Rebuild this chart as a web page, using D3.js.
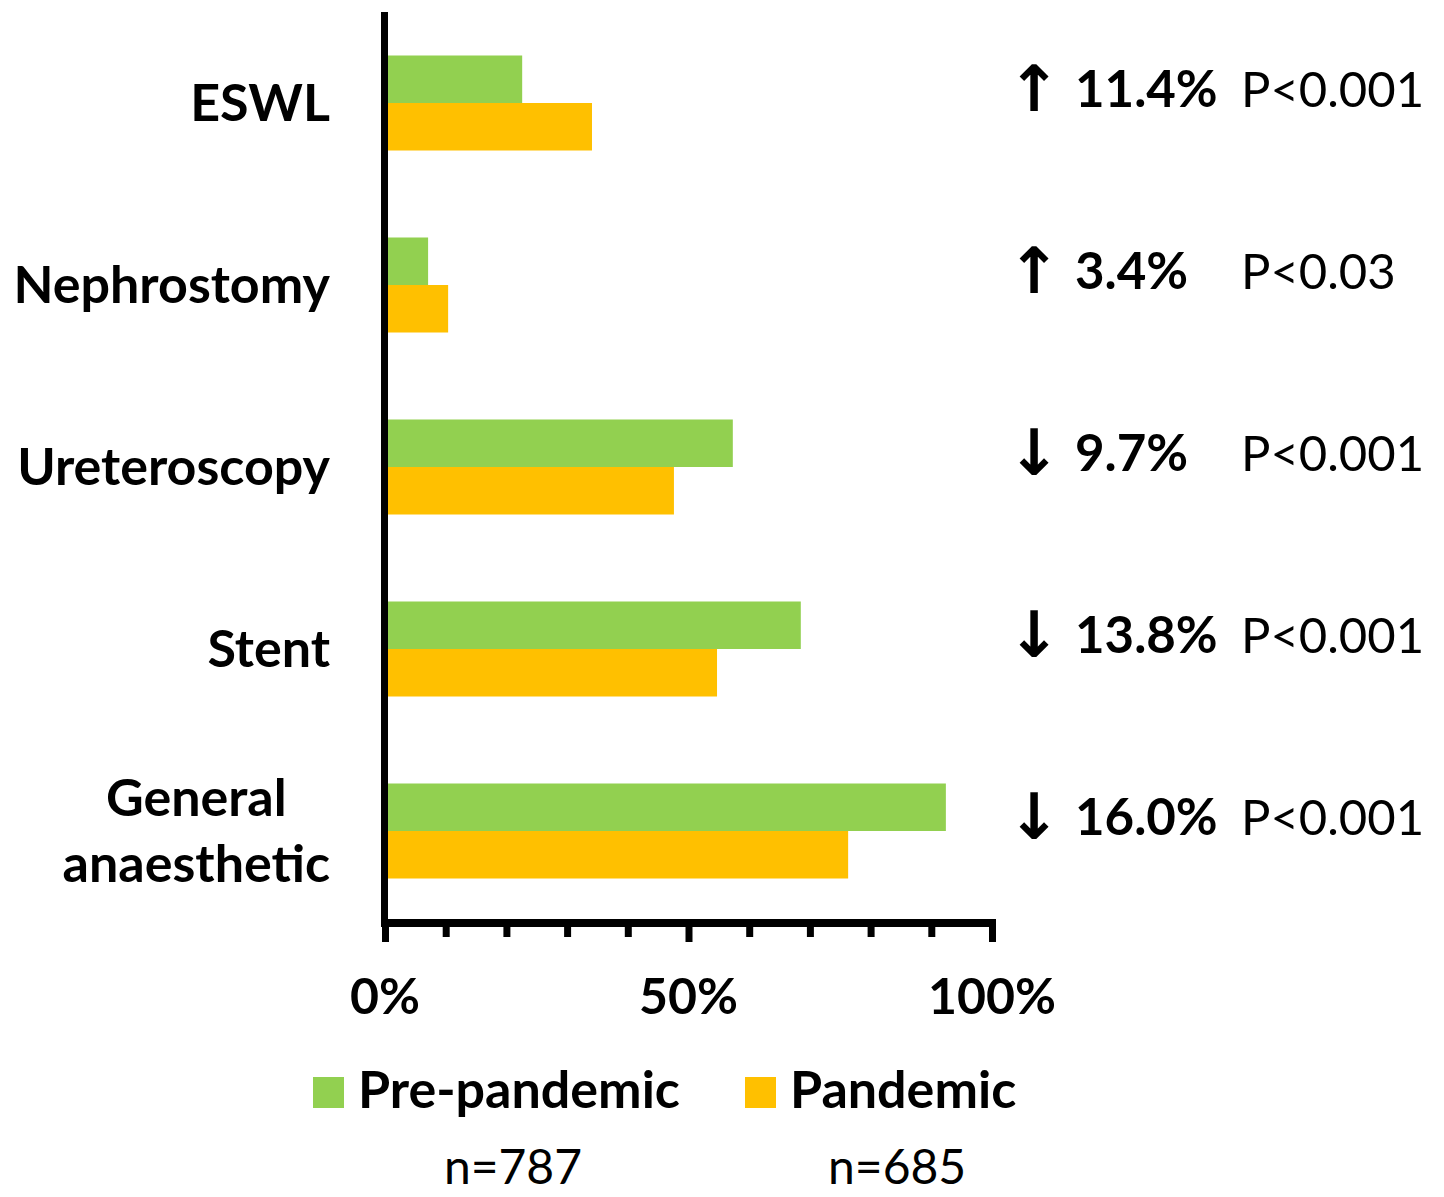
<!DOCTYPE html>
<html>
<head>
<meta charset="utf-8">
<script src="https://cdn.jsdelivr.net/npm/d3@7"></script>
<style>
  body { margin: 0; background: #fff; }
  text { font-family: Lato, "Open Sans", sans-serif; fill: #000; }
</style>
</head>
<body>
<div id="chart"></div>
<script>
// data
var categories = ["ESWL", "Nephrostomy", "Ureteroscopy", "Stent", "General anaesthetic"];
var categoryLines = [["ESWL"], ["Nephrostomy"], ["Ureteroscopy"], ["Stent"], ["General", "anaesthetic"]];
var prePandemic = [22.6, 7.1, 57.3, 68.5, 92.4];
var pandemic = [34.1, 10.4, 47.6, 54.7, 76.3];
var changeText = ["11.4%", "3.4%", "9.7%", "13.8%", "16.0%"];
var changeDir = ["up", "up", "down", "down", "down"];
var pText = ["P<0.001", "P<0.03", "P<0.001", "P<0.001", "P<0.001"];
var seriesNames = ["Pre-pandemic", "Pandemic"];
var seriesN = ["n=787", "n=685"];
var seriesColors = ["#92D050", "#FFC000"];
var xTicks = [0, 10, 20, 30, 40, 50, 60, 70, 80, 90, 100];
var xLabelTicks = [0, 50, 100];

var width = 1444, height = 1197;

var svg = d3.select("#chart")
    .append("svg")
    .attr("width", width)
    .attr("height", height);

// scales
var x = d3.scaleLinear()
    .domain([0, 100])
    .range([385, 992]);

var y = d3.scaleBand()
    .domain(categories)
    .range([12, 922])
    .paddingInner(0.478)
    .paddingOuter(0.239);

var ySub = d3.scaleBand()
    .domain(seriesNames)
    .range([0, y.bandwidth()]);

var rows = categories.map(function(c, i) {
    return {cat: c, lines: categoryLines[i], values: [prePandemic[i], pandemic[i]],
            change: changeText[i], dir: changeDir[i], p: pText[i]};
});

// bars
var groups = svg.selectAll("g.row")
    .data(rows)
    .enter()
    .append("g")
    .attr("class", "row")
    .attr("transform", function(d) { return "translate(0," + y(d.cat) + ")"; });

groups.selectAll("rect")
    .data(function(d) { return d.values.map(function(v, j) { return {v: v, s: seriesNames[j], c: seriesColors[j]}; }); })
    .enter()
    .append("rect")
    .attr("x", x(0))
    .attr("y", function(d) { return ySub(d.s); })
    .attr("width", function(d) { return x(d.v) - x(0); })
    .attr("height", ySub.bandwidth())
    .attr("fill", function(d) { return d.c; });

// x axis
var xAxis = d3.axisBottom(x)
    .tickValues(xTicks)
    .tickSizeOuter(0)
    .tickFormat("");

var gx = svg.append("g")
    .attr("transform", "translate(0,923)")
    .call(xAxis);
gx.select(".domain")
    .attr("d", "M" + (x(0) - 4) + ",0H" + (x(100) + 4))
    .attr("stroke", "#000")
    .attr("stroke-width", 8);
gx.selectAll(".tick line")
    .attr("stroke", "#000")
    .attr("stroke-width", 7)
    .attr("y2", function(d) { return xLabelTicks.indexOf(d) >= 0 ? 19 : 14; });

svg.selectAll("text.xlab")
    .data(xLabelTicks)
    .enter()
    .append("text")
    .attr("class", "xlab")
    .attr("x", function(d) { return x(d); })
    .attr("y", 1014)
    .attr("text-anchor", "middle")
    .attr("font-size", 50)
    .attr("font-weight", "bold")
    .text(function(d) { return d + "%"; });

// y axis (just the line)
var yAxis = d3.axisLeft(y).tickSize(0).tickSizeOuter(0).tickFormat("");
var gy = svg.append("g")
    .attr("transform", "translate(" + (x(0) - 0.5) + ",0)")
    .call(yAxis);
gy.select(".domain")
    .attr("d", "M0," + y.range()[0] + "V" + (y.range()[1] + 5))
    .attr("stroke", "#000")
    .attr("stroke-width", 7);

// category labels
var labelRight = 330;
var labelSize = 52;
groups.each(function(d) {
    var g = d3.select(this);
    var mid = y.bandwidth() / 2;
    if (d.lines.length === 1) {
        g.append("text")
            .attr("x", labelRight)
            .attr("y", mid + 18)
            .attr("text-anchor", "end")
            .attr("font-size", labelSize)
            .attr("font-weight", "bold")
            .text(d.lines[0]);
    } else {
        var t = g.append("text")
            .attr("font-size", labelSize)
            .attr("font-weight", "bold")
            .attr("text-anchor", "middle");
        var widest = 0;
        d.lines.forEach(function(line) {
            var tmp = g.append("text").attr("font-size", labelSize).attr("font-weight", "bold").text(line);
            widest = Math.max(widest, tmp.node().getComputedTextLength());
            tmp.remove();
        });
        var cx = labelRight - widest / 2;
        d.lines.forEach(function(line, k) {
            t.append("tspan")
                .attr("x", cx)
                .attr("y", mid + 18 + (k - (d.lines.length - 1) / 2) * 66)
                .text(line);
        });
    }
});

// change annotations
groups.append("text")
    .attr("x", 1034)
    .attr("y", y.bandwidth() / 2 + 8)
    .attr("text-anchor", "middle")
    .attr("font-size", 64)
    .attr("font-weight", "bold")
    .style("font-family", "'DejaVu Sans', sans-serif")
    .text(function(d) { return d.dir === "up" ? "\u2191" : "\u2193"; });

groups.append("text")
    .attr("x", 1075)
    .attr("y", y.bandwidth() / 2 + 4)
    .attr("font-size", 51)
    .attr("font-weight", "bold")
    .text(function(d) { return d.change; });

groups.append("text")
    .attr("x", 1241)
    .attr("y", y.bandwidth() / 2 + 4)
    .attr("font-size", 49)
    .text(function(d) { return d.p; });

// legend
var legendX = [313, 745];
var legend = svg.selectAll("g.legend")
    .data(seriesNames)
    .enter()
    .append("g")
    .attr("class", "legend")
    .attr("transform", function(d, i) { return "translate(" + legendX[i] + ",0)"; });

legend.append("rect")
    .attr("x", 0)
    .attr("y", 1077)
    .attr("width", 31)
    .attr("height", 31)
    .attr("fill", function(d, i) { return seriesColors[i]; });

legend.append("text")
    .attr("class", "lname")
    .attr("x", 45)
    .attr("y", 1108)
    .attr("font-size", 52)
    .attr("font-weight", "bold")
    .text(function(d) { return d; });

legend.each(function(d, i) {
    var g = d3.select(this);
    var w = g.select("text.lname").node().getComputedTextLength();
    g.append("text")
        .attr("x", 45 + w / 2 - 6)
        .attr("y", 1184)
        .attr("text-anchor", "middle")
        .attr("font-size", 48)
        .text(seriesN[i]);
});
</script>
</body>
</html>
